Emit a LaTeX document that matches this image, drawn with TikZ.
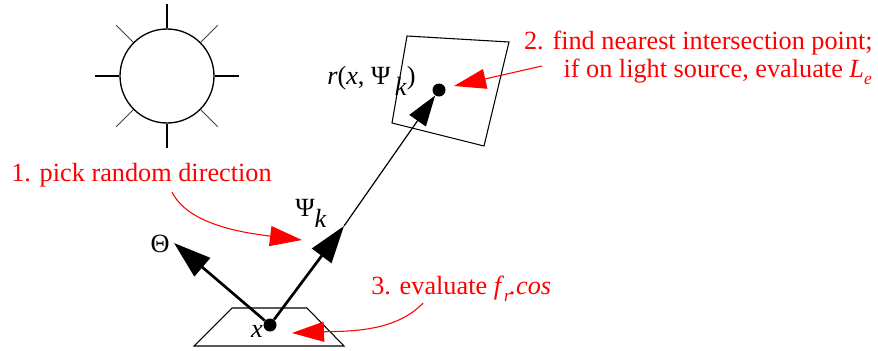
\documentclass[tikz,border=0pt]{standalone}
\usepackage{fontspec}
\setmainfont{Liberation Serif}
\usetikzlibrary{arrows.meta}
\tikzset{
  dot/.style={circle, fill=black, inner sep=0pt, minimum size=9.75pt},
  label/.style={font=\fontsize{19.7}{24}\selectfont, inner sep=0pt},
  step1/.style={label, text=red, align=center},
  patch/.style={draw, line width=0.8pt, line join=miter},
  thinarrow/.style={-{Triangle[length=23pt,width=15pt]}, line width=0.9pt},
  thickarrow/.style={-{Triangle[length=28pt,width=18pt]}, line width=2pt},
  redarrow/.style={-{Triangle[length=24pt,width=15pt]}, red, line width=0.8pt}
}
\newcommand{\subk}[1]{\raisebox{-0.42em}{\textit{#1}}}
\newcommand{\subs}[1]{\raisebox{-0.28em}{\fontsize{13}{16}\selectfont\textit{#1}}}

\begin{document}
\begin{tikzpicture}[x=0.75pt,y=-0.75pt]
\useasboundingbox (0,0) rectangle (878,350);

% light source
\node[circle, draw, line width=1pt, minimum size=70.5pt, inner sep=0pt] (sun) at (167,76) {};
\foreach \a in {0,90,180,270} \draw[line width=1.6pt] (sun.\a) -- ++({24*cos(\a)},{-24*sin(\a)});
\foreach \a in {45,135,225,315} \draw[line width=0.6pt, black!75] (sun.\a) -- ++({24*cos(\a)},{-24*sin(\a)});

% patches
\draw[patch] (407,36) -- (509,42) -- (484,146) -- (392,123) -- cycle;
\draw[patch] (232,308) -- (307,308) -- (344,346) -- (194,346) -- cycle;

\node[dot] (hit) at (439,90) {};
\node[dot] (xdot) at (270,325) {};
\coordinate (psitip) at (344,226);
\coordinate (thetatip) at (174,243);

\draw[thickarrow] (xdot) -- (psitip);
\draw[thickarrow] (xdot) -- (thetatip);
\draw[thinarrow] (psitip) -- (hit);

\node[label] (theta) at (160,244) {Θ};
\node[label, anchor=west] (psi) at (295,213) {Ψ\subk{k}};
\node[label] (x) at (257,331) {\textit{x}};
\node[label, anchor=west] (ray) at (327,81) {\textit{r}(\textit{x}, Ψ\,\subk{k})};

% numbered steps
\node[step1, anchor=west] (pick) at (11,175) {1. pick random direction};
\node[step1, anchor=east] (find) at (873,43) {2. find nearest intersection point;};
\node[step1, anchor=east] (source) at (872,72) {if on light source, evaluate \textit{L}\subs{e}};
\node[step1, anchor=west] (fr) at (371,289) {3. evaluate \textit{f}\subs{r}\kern-1pt\textit{.cos}};

\coordinate (pickstart) at (172,192);
\coordinate (pickend) at (302,240);
\coordinate (findstart) at (542,66);
\coordinate (findend) at (454,86);
\coordinate (frstart) at (423,303);
\coordinate (frend) at (292,333);

\draw[redarrow] (pickstart) .. controls (188,225) and (245,233) .. (pickend);
\draw[redarrow] (findstart) -- (findend);
\draw[redarrow] (frstart) .. controls (395,333) and (345,331) .. (frend);
\end{tikzpicture}
\end{document}
